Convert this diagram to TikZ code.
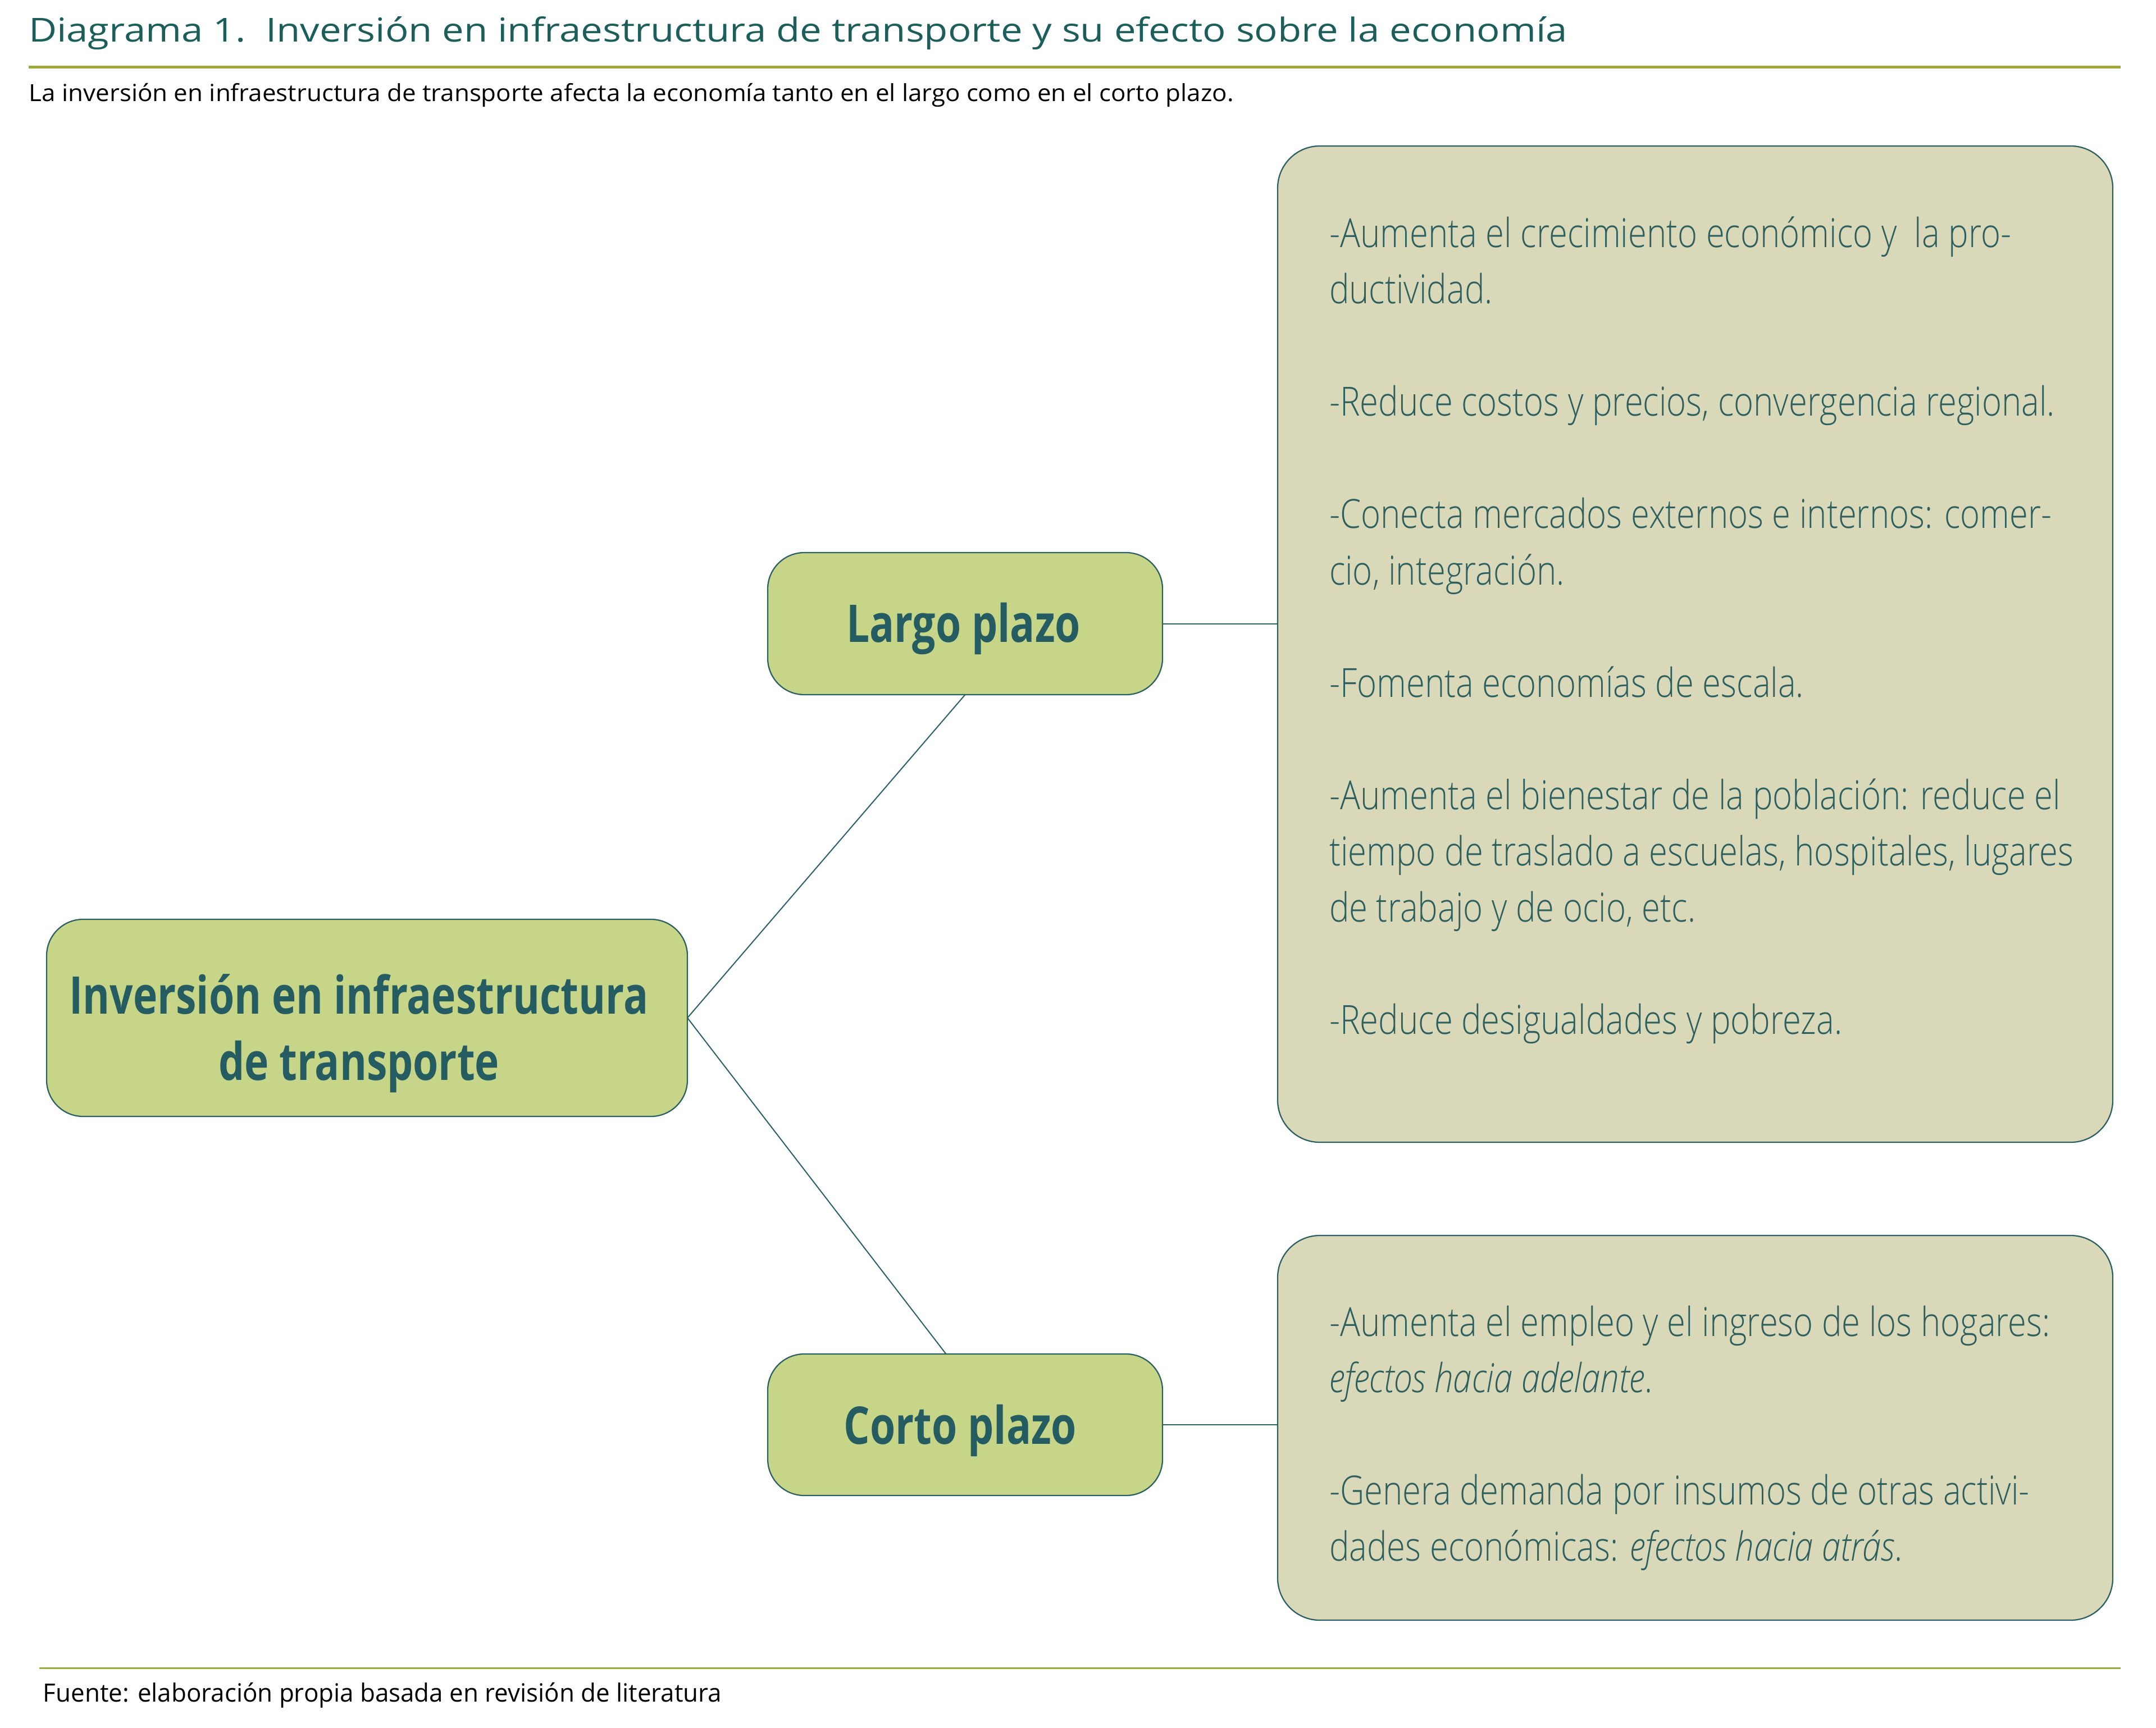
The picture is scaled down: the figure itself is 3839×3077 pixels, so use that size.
\documentclass[tikz,border=0pt]{standalone}
\usepackage{fontspec}
\usepackage{graphicx}
\setmainfont{Open Sans}
\newfontfamily\lightfam{Open Sans Light}
\definecolor{titleteal}{HTML}{1C5E5A}
\definecolor{ruleolive}{HTML}{9BAA3B}
\definecolor{nodegreen}{HTML}{C6D587}
\definecolor{boxbeige}{HTML}{D9D8B8}
\definecolor{edgeteal}{HTML}{2A5F63}
\definecolor{labelteal}{HTML}{245C61}
\definecolor{listteal}{HTML}{2D5F5F}
\newlength\fitlen
\newcommand\getscale[3]{\settowidth\fitlen{#2}\pgfmathsetmacro#1{#3/\fitlen}}
\newcommand\titlef{\fontsize{11.76pt}{14pt}\selectfont}
\newcommand\subf{\fontsize{8.4pt}{10pt}\selectfont}
\newcommand\footf{\fontsize{8.96pt}{10pt}\selectfont}
\newcommand\listf{\lightfam\fontsize{14.3pt}{17pt}\selectfont}
\newcommand\labf{\fontsize{18.5pt}{22pt}\selectfont\bfseries}
\tikzset{
  txt/.style={anchor=base west, inner sep=0pt, outer sep=0pt},
  ctxt/.style={anchor=base, inner sep=0pt, outer sep=0pt, text=labelteal},
  ltxt/.style={anchor=base west, inner sep=0pt, outer sep=0pt, text=listteal},
  greenbox/.style={draw=edgeteal, line width=0.45pt, fill=nodegreen, rounded corners=13pt, inner sep=0pt, outer sep=0pt},
  beigebox/.style={draw=edgeteal, line width=0.45pt, fill=boxbeige, rounded corners=15pt, inner sep=0pt, outer sep=0pt},
  link/.style={draw=edgeteal, line width=0.4pt},
  rulemain/.style={draw=ruleolive, line width=1pt},
  rulefoot/.style={draw=ruleolive, line width=0.7pt},
}
\begin{document}
\getscale\sTitle{\titlef Diagrama 1.\ \ Inversión en infraestructura de transporte y su efecto sobre la economía}{548}
\getscale\sSub{\subf La inversión en infraestructura de transporte afecta la economía tanto en el largo como en el corto plazo.}{429}
\getscale\sFoot{\footf Fuente: elaboración propia basada en revisión de literatura}{241.6}
\getscale\sList{\listf -Reduce costos y precios, convergencia regional.}{258.4}
\getscale\sLab{\labf Largo plazo}{83.4}
\begin{tikzpicture}[x=0.2pt, y=-0.2pt]
\useasboundingbox (0,0) rectangle (3839,3077);
% header and footer
\node[txt, text=titleteal] (title) at (51,75) {\scalebox{\sTitle}[1]{\titlef Diagrama 1.\ \ Inversión en infraestructura de transporte y su efecto sobre la economía}};
\draw[rulemain] (51,119.5) -- (3776,119.5);
\node[txt, text=black] (sub) at (52,181) {\scalebox{\sSub}[1]{\subf La inversión en infraestructura de transporte afecta la economía tanto en el largo como en el corto plazo.}};
\draw[rulefoot] (70,2970.5) -- (3776,2970.5);
\node[txt, text=black] (foot) at (77,3030) {\scalebox{\sFoot}[1]{\footf Fuente: elaboración propia basada en revisión de literatura}};
% boxes
\node[greenbox, minimum width=228.2pt, minimum height=70.2pt] (inv) at (653.5,1812.5) {};
\node[greenbox, minimum width=140.6pt, minimum height=50.6pt] (largo) at (1718.5,1110.5) {};
\node[greenbox, minimum width=140.6pt, minimum height=50.4pt] (corto) at (1718.5,2537) {};
\node[beigebox, minimum width=297.4pt, minimum height=354.8pt] (efl) at (3018.5,1147) {};
\node[beigebox, minimum width=297.4pt, minimum height=137pt] (efc) at (3018.5,2542.5) {};
% connectors
\draw[link] (inv.east) -- (largo.south);
\draw[link] (inv.east) -- ([xshift=-6.8pt]corto.north);
\draw[link] (largo.east) -- (largo.east -| efl.west);
\draw[link] (corto.east) -- (corto.east -| efc.west);
% labels
\node[ctxt] (inv1) at (639,1805) {\scalebox{\sLab}[1]{\labf Inversión en infraestructura}};
\node[ctxt] (inv2) at (639,1923) {\scalebox{\sLab}[1]{\labf de transporte}};
\node[ctxt] (largot) at (1715.5,1143) {\scalebox{\sLab}[1]{\labf Largo plazo}};
\node[ctxt] (cortot) at (1710,2571) {\scalebox{\sLab}[1]{\labf Corto plazo}};
% long-term list
\node[ltxt] (l0) at (2367,441) {\scalebox{\sList}[1]{\listf -Aumenta el crecimiento económico y\ \ la pro-}};
\node[ltxt] (l1) at (2367,541) {\scalebox{\sList}[1]{\listf ductividad.}};
\node[ltxt] (l3) at (2367,741) {\scalebox{\sList}[1]{\listf -Reduce costos y precios, convergencia regional.}};
\node[ltxt] (l5) at (2367,941) {\scalebox{\sList}[1]{\listf -Conecta mercados externos e internos: comer-}};
\node[ltxt] (l6) at (2367,1041) {\scalebox{\sList}[1]{\listf cio, integración.}};
\node[ltxt] (l8) at (2367,1241) {\scalebox{\sList}[1]{\listf -Fomenta economías de escala.}};
\node[ltxt] (l10) at (2367,1441) {\scalebox{\sList}[1]{\listf -Aumenta el bienestar de la población: reduce el}};
\node[ltxt] (l11) at (2367,1541) {\scalebox{\sList}[1]{\listf tiempo de traslado a escuelas, hospitales, lugares}};
\node[ltxt] (l12) at (2367,1641) {\scalebox{\sList}[1]{\listf de trabajo y de ocio, etc.}};
\node[ltxt] (l14) at (2367,1841) {\scalebox{\sList}[1]{\listf -Reduce desigualdades y pobreza.}};
% short-term list
\node[ltxt] (c0) at (2367,2379) {\scalebox{\sList}[1]{\listf -Aumenta el empleo y el ingreso de los hogares:}};
\node[ltxt] (c1) at (2367,2479) {\scalebox{\sList}[1]{\listf \textit{efectos hacia adelante}.}};
\node[ltxt] (c3) at (2367,2679) {\scalebox{\sList}[1]{\listf -Genera demanda por insumos de otras activi-}};
\node[ltxt] (c4) at (2367,2779) {\scalebox{\sList}[1]{\listf dades económicas: \textit{efectos hacia atrás}.}};
\end{tikzpicture}
\end{document}
